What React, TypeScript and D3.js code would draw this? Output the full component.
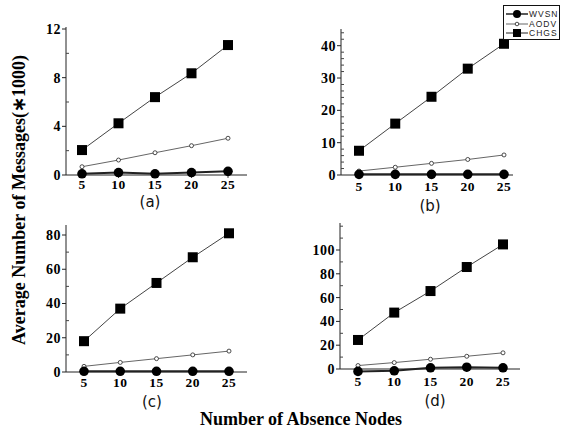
import React from 'react';
import * as d3 from 'd3';

// x categories: number of absence nodes
const nodes = [5, 10, 15, 20, 25];

// panel (a)
const wvsnA = [0.1, 0.2, 0.1, 0.2, 0.3];
const aodvA = [0.68, 1.23, 1.83, 2.41, 3.02];
const chgsA = [2.05, 4.25, 6.4, 8.36, 10.68];
// panel (b)
const wvsnB = [0.2, 0.2, 0.2, 0.2, 0.2];
const aodvB = [1.23, 2.4, 3.6, 4.8, 6.2];
const chgsB = [7.5, 15.9, 24.2, 32.9, 40.6];
// panel (c)
const wvsnC = [0.4, 0.4, 0.4, 0.4, 0.4];
const aodvC = [3.3, 5.6, 7.8, 10, 12.2];
const chgsC = [18, 37, 52, 67, 81];
// panel (d)
const wvsnD = [-2, -1.5, 1, 1.5, 1];
const aodvD = [2.9, 5.4, 8.2, 10.7, 13.6];
const chgsD = [24.4, 47.4, 65.5, 85.7, 104.7];

const ticksA = [0, 4, 8, 12];
const ticksB = [0, 10, 20, 30, 40];
const ticksC = [0, 20, 40, 60, 80];
const ticksD = [0, 20, 40, 60, 80, 100];

const seriesNames = ['WVSN', 'AODV', 'CHGS'];

type Panel = {
  label: string;
  wvsn: number[];
  aodv: number[];
  chgs: number[];
  ticks: number[];
  minor: number;
  refVal: number; // value used to calibrate y scale
  axisX: number;
  x5: number;
  x25: number;
  xEnd: number;
  y0: number;
  yRef: number;
  yTop: number;
  tickBase: number;
  subX: number;
  subBase: number;
};

const panels: Panel[] = [
  { label: '(a)', wvsn: wvsnA, aodv: aodvA, chgs: chgsA, ticks: ticksA, minor: 2, refVal: 12,
    axisX: 66, x5: 82, x25: 228, xEnd: 247, y0: 175, yRef: 29, yTop: 27, tickBase: 189, subX: 150, subBase: 207 },
  { label: '(b)', wvsn: wvsnB, aodv: aodvB, chgs: chgsB, ticks: ticksB, minor: 2, refVal: 40,
    axisX: 341, x5: 359, x25: 504, xEnd: 513, y0: 175, yRef: 45.7, yTop: 29, tickBase: 191, subX: 430, subBase: 211 },
  { label: '(c)', wvsn: wvsnC, aodv: aodvC, chgs: chgsC, ticks: ticksC, minor: 10, refVal: 80,
    axisX: 66, x5: 84, x25: 229, xEnd: 247, y0: 372, yRef: 235, yTop: 225, tickBase: 387, subX: 152, subBase: 407 },
  { label: '(d)', wvsn: wvsnD, aodv: aodvD, chgs: chgsD, ticks: ticksD, minor: 10, refVal: 100,
    axisX: 340, x5: 358, x25: 503, xEnd: 520, y0: 369, yRef: 250, yTop: 223, tickBase: 386, subX: 435, subBase: 406 },
];

const serif = '"Liberation Serif", "Times New Roman", serif';
const sans = '"DejaVu Sans", sans-serif';

function PanelChart({ p }: { p: Panel }) {
  const x = d3.scaleLinear().domain([5, 25]).range([p.x5, p.x25]);
  const y = d3.scaleLinear().domain([0, p.refVal]).range([p.y0, p.yRef]);
  const topVal = y.invert(p.yTop);
  const minorTicks = d3.range(0, topVal + 0.001, p.minor).filter((v) => !p.ticks.includes(v));
  const line = d3
    .line<number>()
    .x((_, i) => x(nodes[i]))
    .y((d) => y(d));

  return (
    <g>
      {/* axes */}
      <line x1={p.axisX} x2={p.axisX} y1={p.y0} y2={p.yTop} stroke="#222" strokeWidth={1} />
      <line x1={p.axisX} x2={p.xEnd} y1={p.y0} y2={p.y0} stroke="#222" strokeWidth={1} />
      {p.ticks.map((t) => (
        <g key={'t' + t}>
          <line x1={p.axisX - 4} x2={p.axisX} y1={y(t)} y2={y(t)} stroke="#222" />
          <text
            x={p.axisX - 5}
            y={y(t)}
            dy="0.35em"
            textAnchor="end"
            fontFamily={serif}
            fontWeight="bold"
            fontSize={14}
            letterSpacing={0.5}
          >
            {t}
          </text>
        </g>
      ))}
      {minorTicks.map((t) => (
        <line key={'m' + t} x1={p.axisX} x2={p.axisX + 3} y1={y(t)} y2={y(t)} stroke="#444" />
      ))}
      {nodes.map((n) => (
        <g key={'x' + n}>
          <line x1={x(n)} x2={x(n)} y1={p.y0} y2={p.y0 + 3} stroke="#444" />
          <text
            x={x(n)}
            y={p.tickBase}
            textAnchor="middle"
            fontFamily={serif}
            fontWeight="bold"
            fontSize={13.5}
            letterSpacing={0.5}
          >
            {n}
          </text>
        </g>
      ))}
      <text x={p.subX} y={p.subBase} textAnchor="middle" fontFamily={sans} fontSize={15} fill="#111">
        {p.label}
      </text>

      {/* CHGS */}
      <path d={line(p.chgs) ?? ''} fill="none" stroke="#444" strokeWidth={1} />
      {p.chgs.map((v, i) => (
        <rect key={'s' + i} x={x(nodes[i]) - 5} y={y(v) - 5} width={10} height={10} fill="#000" />
      ))}
      {/* AODV */}
      <path d={line(p.aodv) ?? ''} fill="none" stroke="#666" strokeWidth={1} />
      {p.aodv.map((v, i) => (
        <circle key={'o' + i} cx={x(nodes[i])} cy={y(v)} r={2} fill="#fff" stroke="#222" strokeWidth={0.8} />
      ))}
      {/* WVSN */}
      <path d={line(p.wvsn) ?? ''} fill="none" stroke="#222" strokeWidth={2} />
      {p.wvsn.map((v, i) => (
        <circle key={'c' + i} cx={x(nodes[i])} cy={y(v)} r={4.8} fill="#000" />
      ))}
    </g>
  );
}

function Legend() {
  const rows = [14, 24, 33];
  return (
    <g>
      <rect x={503.5} y={5.5} width={56} height={34} fill="#fff" stroke="#111" strokeWidth={1} />
      {seriesNames.map((name, i) => (
        <g key={name}>
          <line x1={506} x2={528} y1={rows[i]} y2={rows[i]} stroke={i === 1 ? '#666' : '#222'} strokeWidth={i === 0 ? 1.5 : 1} />
          {i === 0 && <circle cx={517} cy={rows[i]} r={4} fill="#000" />}
          {i === 1 && <circle cx={517} cy={rows[i]} r={1.8} fill="#fff" stroke="#222" strokeWidth={0.8} />}
          {i === 2 && <rect x={513} y={rows[i] - 4} width={8} height={8} fill="#000" />}
          <text x={529} y={rows[i]} dy="0.35em" fontFamily='"Liberation Sans", Arial, sans-serif' fontSize={8.5} letterSpacing={1} fill="#222">
            {name}
          </text>
        </g>
      ))}
    </g>
  );
}

export default function App() {
  return (
    <svg
      width={561}
      height={434}
      style={{ position: 'absolute', left: 0, top: 0, background: '#fff' }}
    >
      {panels.map((p) => (
        <PanelChart key={p.label} p={p} />
      ))}
      <Legend />
      <text
        transform="translate(25,200) rotate(-90)"
        textAnchor="middle"
        fontFamily={serif}
        fontWeight="bold"
        fontSize={18}
      >
        Average Number of Messages(∗1000)
      </text>
      <text x={301} y={425} textAnchor="middle" fontFamily={serif} fontWeight="bold" fontSize={18}>
        Number of Absence Nodes
      </text>
    </svg>
  );
}
